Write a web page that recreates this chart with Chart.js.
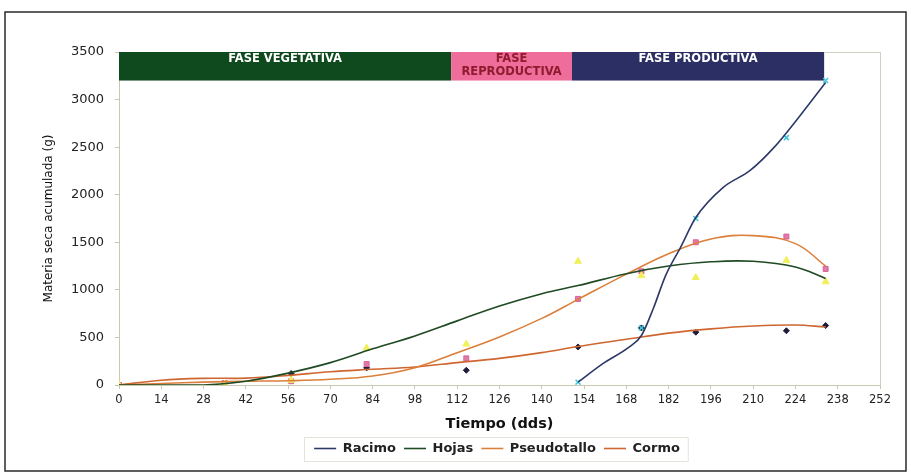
<!DOCTYPE html>
<html>
<head>
<meta charset="utf-8">
<script src="https://cdn.jsdelivr.net/npm/chart.js@4.4.1/dist/chart.umd.min.js"></script>
<style>
  html, body { margin: 0; padding: 0; background: #fff; }
</style>
</head>
<body>
<canvas id="chartCanvas" width="911" height="474"></canvas>
<script>
// sampled days (dds) and measured dry matter (g)
const sampleDays = [0, 35, 57, 82, 115, 152, 173, 191, 221, 234];
const hojasPoints = [0, 10, 50, 390, 430, 1300, 1150, 1130, 1310, 1085];
const pseudotalloPoints = [0, 20, 40, 220, 280, 905, 1195, 1500, 1560, 1220];
const cormoPoints = [0, 10, 120, 180, 155, 400, 600, 555, 570, 625];
const racimoDays = [152, 173, 191, 221, 234];
const racimoPoints = [30, 600, 1750, 2600, 3200];

// trend lines
const trendDays = [0, 14, 28, 42, 56, 70, 84, 98, 112, 126, 140, 152, 168, 182, 196, 210, 224, 234];
const hojasTrend = [0, 0, 0, 40, 125, 235, 380, 516, 674, 830, 960, 1045, 1170, 1250, 1295, 1300, 1240, 1120];
const pseudotalloTrend = [0, 15, 30, 40, 45, 60, 95, 182, 340, 505, 700, 900, 1165, 1380, 1535, 1570, 1486, 1250];
const cormoTrend = [0, 50, 70, 72, 100, 140, 165, 190, 235, 280, 340, 405, 480, 545, 590, 620, 630, 610];
const racimoTrendDays = [152, 160, 169, 173, 177, 181, 186, 191, 200, 209, 217, 225, 234];
const racimoTrend = [30, 220, 400, 520, 810, 1150, 1450, 1760, 2075, 2255, 2500, 2810, 3180];

// growth phases (dds) and the band height (g)
const phaseNames = [["FASE VEGETATIVA"], ["FASE", "REPRODUCTIVA"], ["FASE PRODUCTIVA"]];
const phaseStart = [0, 110, 150];
const phaseEnd = [110, 150, 233.5];
const phaseTop = 3500;
const phaseBottom = 3200;

const xTicksMax = 252;
const yTicksMax = 3500;

const phaseFill = ["#0f4a1f", "#ef6d9b", "#2c2f64"];
const phaseText = ["#ffffff", "#8e1b2e", "#ffffff"];
const legendShift = 38;

const pts = (xs, ys) => xs.map((x, i) => ({ x: x, y: ys[i] }));

Chart.defaults.font.family = '"DejaVu Sans", Verdana, sans-serif';
Chart.defaults.color = "#222";

const phasePlugin = {
  id: "phases",
  beforeDatasetsDraw(chart) {
    const { ctx, scales: { x, y } } = chart;
    const top = y.getPixelForValue(phaseTop);
    const bottom = y.getPixelForValue(phaseBottom);
    ctx.save();
    phaseNames.forEach((lines, i) => {
      const l = x.getPixelForValue(phaseStart[i]);
      const r = x.getPixelForValue(phaseEnd[i]);
      ctx.fillStyle = phaseFill[i];
      ctx.fillRect(l, top, r - l, bottom - top);
      ctx.fillStyle = phaseText[i];
      ctx.font = 'bold 11.5px "DejaVu Sans", sans-serif';
      ctx.textAlign = "center";
      ctx.textBaseline = "middle";
      lines.forEach((t, j) => ctx.fillText(t, (l + r) / 2, top + 7.5 + j * 13));
    });
    ctx.restore();
  }
};

const framePlugin = {
  id: "frame",
  afterLayout(chart) {
    chart.legend.left += legendShift;
    chart.legend.right += legendShift;
  },
  afterDraw(chart) {
    const { ctx, chartArea: a, legend } = chart;
    ctx.save();
    ctx.strokeStyle = "#cfcfc4";
    ctx.lineWidth = 1;
    ctx.beginPath();
    ctx.moveTo(a.right + 0.5, a.top);
    ctx.lineTo(a.right + 0.5, a.bottom);
    ctx.moveTo(chart.scales.x.getPixelForValue(233.5), a.top + 0.5);
    ctx.lineTo(a.right, a.top + 0.5);
    ctx.stroke();
    // legend box
    const pad = legend.options.labels.padding;
    const lw = legend.lineWidths[0];
    const rowLeft = (legend.left + pad + legend.right - lw) / 2;
    const rowRight = rowLeft + lw - pad;
    const rowTop = legend.top + pad;
    ctx.strokeStyle = "#e4e4da";
    ctx.strokeRect(Math.round(rowLeft - 10) + 0.5, Math.round(rowTop - 5) + 0.5, rowRight - rowLeft + 18, 24);
    // outer border
    ctx.strokeStyle = "#2a2a2a";
    ctx.lineWidth = 1.5;
    ctx.strokeRect(5, 12, 901, 459);
    ctx.restore();
  }
};

new Chart(document.getElementById("chartCanvas"), {
  type: "scatter",
  data: {
    datasets: [
      { label: "Racimo", type: "line", data: pts(racimoTrendDays, racimoTrend), borderColor: "#2b3868", backgroundColor: "#2b3868", borderWidth: 1.6, pointRadius: 0, cubicInterpolationMode: "monotone", pointStyle: "line" },
      { label: "Hojas", type: "line", data: pts(trendDays, hojasTrend), borderColor: "#1f4a24", backgroundColor: "#1f4a24", borderWidth: 1.6, pointRadius: 0, tension: 0.4, pointStyle: "line" },
      { label: "Pseudotallo", type: "line", data: pts(trendDays, pseudotalloTrend), borderColor: "#dc7f3a", backgroundColor: "#dc7f3a", borderWidth: 1.6, pointRadius: 0, tension: 0.4, pointStyle: "line" },
      { label: "Cormo", type: "line", data: pts(trendDays, cormoTrend), borderColor: "#cf6630", backgroundColor: "#cf6630", borderWidth: 1.6, pointRadius: 0, tension: 0.4, pointStyle: "line" },
      { label: "m-racimo", data: pts(racimoDays, racimoPoints), pointStyle: "crossRot", pointRadius: 3.5, borderColor: "#3cc8d8", backgroundColor: "#3cc8d8", borderWidth: 1.5 },
      { label: "m-hojas", data: pts(sampleDays, hojasPoints), pointStyle: "triangle", pointRadius: 4, borderColor: "#f2f05a", backgroundColor: "#f2f05a" },
      { label: "m-pseudotallo", data: pts(sampleDays, pseudotalloPoints), pointStyle: "rect", pointRadius: 3.5, borderColor: "#d9609a", backgroundColor: "#e27aa8" },
      { label: "m-cormo", data: pts(sampleDays, cormoPoints), pointStyle: "rectRot", pointRadius: 3, borderColor: "#1d1d3a", backgroundColor: "#1d1d3a" }
    ]
  },
  options: {
    responsive: false,
    animation: false,
    layout: { padding: { left: 38, top: 52, right: 31, bottom: 9 } },
    plugins: {
      tooltip: { enabled: false },
      legend: {
        position: "bottom",
        labels: {
          filter: item => !item.text.startsWith("m-"),
          usePointStyle: true,
          pointStyleWidth: 22,
          padding: 8,
          color: "#222",
          font: { size: 13, weight: "bold" }
        }
      }
    },
    scales: {
      x: {
        type: "linear",
        min: 0,
        max: xTicksMax,
        afterFit: s => { s.height = 49; },
        ticks: { stepSize: 14, padding: 4, font: { size: 11.5 }, color: "#222" },
        grid: { drawOnChartArea: false, tickLength: 4, color: "#c9c9b0" },
        border: { color: "#c9c9b0" },
        title: { display: true, text: "Tiempo (dds)", font: { size: 14.5, weight: "bold" }, color: "#111", padding: { top: 0, bottom: 1 } }
      },
      y: {
        min: 0,
        max: yTicksMax,
        afterFit: s => { s.width = 81; },
        ticks: { stepSize: 500, padding: 11, font: { size: 13 }, color: "#222", callback: v => String(v) },
        grid: { drawOnChartArea: false, tickLength: 4, color: "#c9c9b0" },
        border: { color: "#c9c9b0" },
        title: { display: true, text: "Materia seca acumulada (g)", font: { size: 12 }, color: "#111", padding: 4 }
      }
    }
  },
  plugins: [phasePlugin, framePlugin]
});
</script>
</body>
</html>
